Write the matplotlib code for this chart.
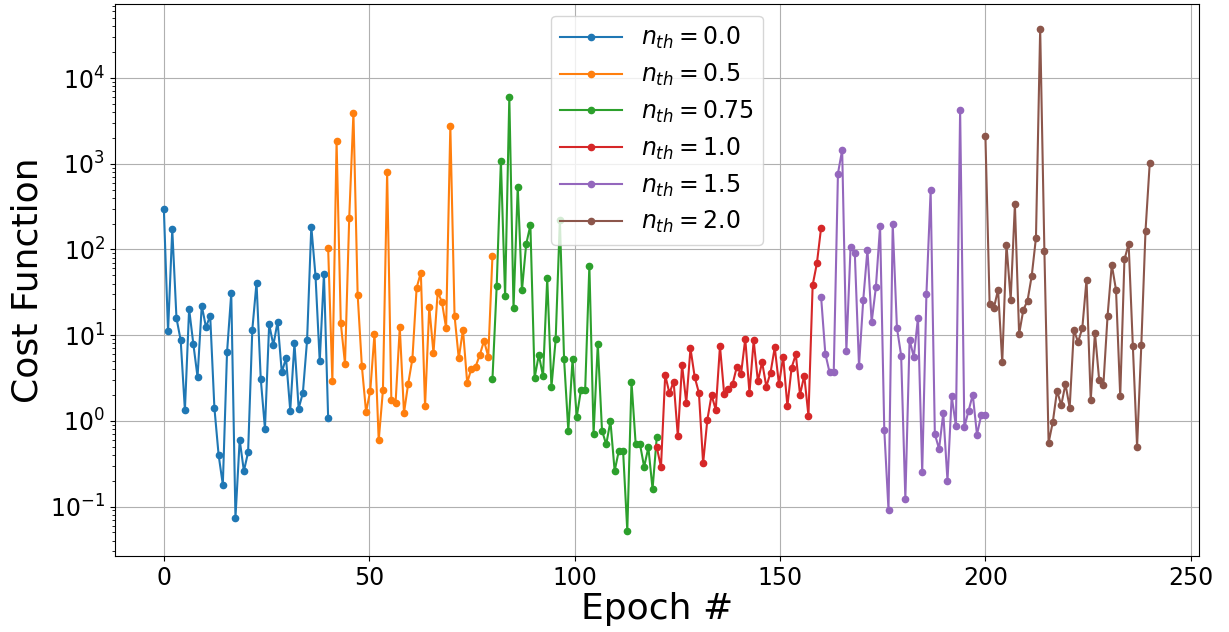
import numpy as np
import matplotlib
matplotlib.use('Agg')
import matplotlib.pyplot as plt

labels = ['0.0', '0.5', '0.75', '1.0', '1.5', '2.0']

cost_00 = [300, 11.1, 171, 15.8, 8.7, 1.33, 20.2, 7.9, 3.25, 22.1,
           12.4, 16.8, 1.42, 0.40, 0.18, 6.3, 30.8, 0.074, 0.60, 0.26,
           0.43, 11.6, 41, 3.1, 0.81, 13.4, 7.65, 14.4, 3.68, 5.4,
           1.32, 8.1, 1.39, 2.12, 8.75, 185, 49, 4.94, 52, 1.08]
cost_05 = [103, 2.94, 1820, 13.8, 4.64, 233, 3920, 29.7, 4.36, 1.27,
           2.25, 10.4, 0.59, 2.27, 793, 1.75, 1.62, 12.3, 1.24, 2.72,
           5.3, 35.8, 53.5, 1.48, 21.3, 6.18, 31.9, 24.4, 12.1, 2740,
           16.9, 5.35, 11.6, 2.79, 4.06, 4.29, 5.9, 8.6, 5.6, 84.4]
cost_075 = [3.08, 37, 1083, 28.4, 5960, 20.6, 540, 33.4, 115, 192,
            3.16, 5.9, 3.33, 46, 2.48, 8.9, 221, 5.2, 0.77, 5.2,
            1.11, 2.29, 2.29, 64.6, 0.71, 7.9, 0.77, 0.53, 0.99, 0.26,
            0.45, 0.45, 0.052, 2.84, 0.53, 0.54, 0.29, 0.49, 0.16, 0.65]
cost_10 = [0.49, 0.29, 3.43, 2.1, 2.87, 0.66, 4.52, 1.62, 7.0, 3.25,
           2.12, 0.32, 1.03, 1.99, 1.35, 7.45, 2.04, 2.36, 2.69, 4.28,
           3.52, 9.06, 2.12, 8.67, 2.89, 4.85, 2.51, 3.65, 7.19, 2.67,
           5.6, 1.48, 4.17, 5.96, 2.02, 3.37, 1.15, 38.5, 68.7, 179]
cost_15 = [28, 6.1, 3.7, 3.67, 769, 1450, 6.6, 107, 91, 4.34,
           25.6, 99.5, 14.2, 36, 188, 0.78, 0.091, 198, 12.2, 5.78,
           0.122, 8.87, 5.57, 16, 0.25, 30, 488, 0.70, 0.47, 1.23,
           0.20, 1.94, 0.87, 4250, 0.84, 1.31, 2.02, 0.69, 1.16, 1.16]
cost_20 = [2120, 23.1, 20.6, 34, 4.81, 114, 26, 337, 10.3, 19.7,
           25.3, 49.4, 137, 37500, 96.5, 0.555, 0.97, 2.25, 1.52, 2.69,
           1.43, 11.5, 8.3, 12.1, 44.4, 1.74, 10.7, 3.0, 2.62, 16.9,
           66.3, 33.7, 1.94, 76.5, 116, 7.38, 0.50, 7.59, 165, 1010]

costs = [cost_00, cost_05, cost_075, cost_10, cost_15, cost_20]

fig = plt.figure(figsize=(12.29, 6.32), dpi=100)
ax = fig.add_axes([0.0932, 0.1203, 0.8824, 0.8737])

for i in range(len(costs)):
    epochs = np.linspace(40 * i, 40 * (i + 1), len(costs[i]))
    ax.plot(epochs, costs[i], 'o-', markersize=4.5, linewidth=1.5,
            label=r'$n_{th} = ' + labels[i] + '$')

ax.set_yscale('log')
ax.grid(True, which='major')
ax.set_xlabel('Epoch #', fontsize=26, labelpad=2)
ax.set_ylabel('Cost Function', fontsize=26)
ax.tick_params(axis='both', which='major', labelsize=17)
ax.legend(loc='upper center', fontsize=17, handlelength=2.6,
          labelspacing=0.45)

fig.savefig('out.png', dpi=100)
